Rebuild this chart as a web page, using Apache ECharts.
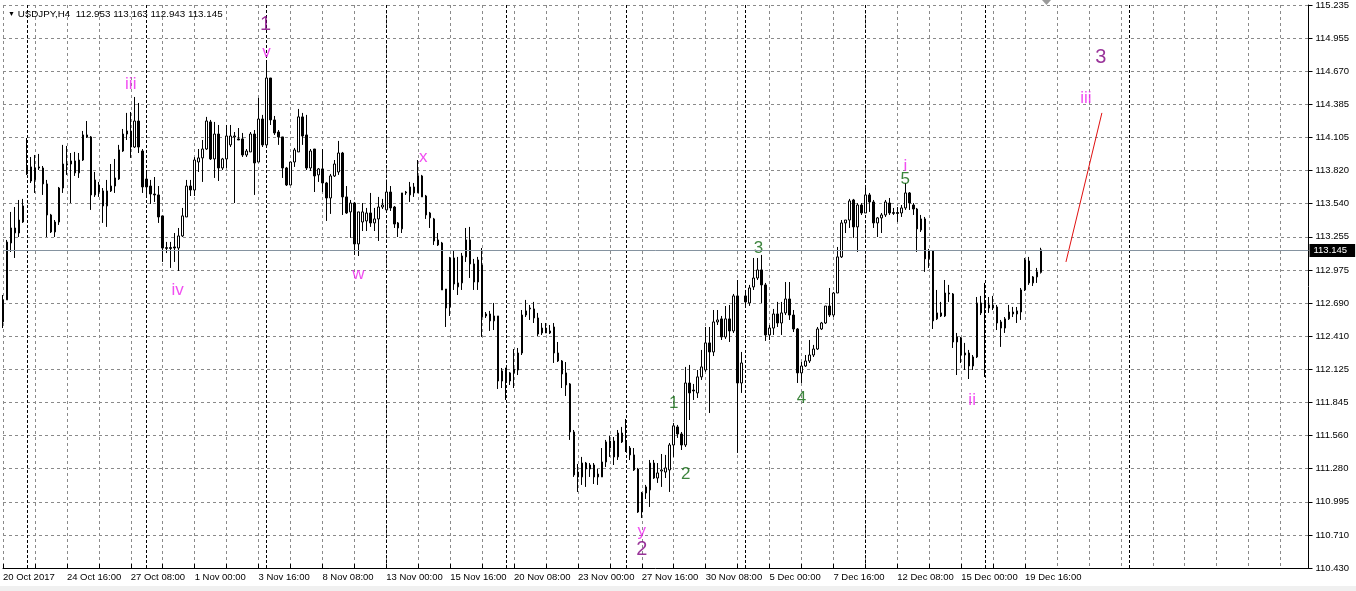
<!DOCTYPE html>
<html><head><meta charset="utf-8">
<script src="https://cdn.jsdelivr.net/npm/echarts/dist/echarts.min.js"></script>
<style>html,body{margin:0;padding:0;background:#fff;overflow:hidden}#c{width:1356px;height:591px}</style>
</head><body><div id="c"></div>
<script>
// ---------------- DATA ----------------
const symbolTitle = 'USDJPY,H4';
const lastQuote = {open:112.953, high:113.163, low:112.943, close:113.145};
const currentPrice = 113.145;

const open = [112.530,112.718,113.204,113.332,113.289,113.383,113.793,113.853,113.742,113.844,
113.844,113.708,113.443,113.298,113.383,113.673,113.870,113.878,113.904,113.802,
113.912,114.126,114.109,113.614,113.699,113.648,113.520,113.648,113.690,113.750,
113.989,114.134,114.160,114.023,114.245,113.989,113.750,113.690,113.622,113.614,
113.435,113.157,113.165,113.170,113.161,113.264,113.426,113.690,113.656,113.895,
113.930,114.006,114.237,113.921,114.134,113.844,113.921,114.041,114.109,114.092,
114.092,113.955,113.981,114.134,113.895,114.262,114.041,114.612,114.254,114.151,
114.109,113.844,113.699,113.895,113.981,114.280,114.126,113.844,114.006,113.785,
113.836,113.716,113.588,113.776,113.810,113.972,113.597,113.469,113.545,113.196,
113.383,113.392,113.460,113.375,113.409,113.511,113.486,113.639,113.511,113.375,
113.324,113.631,113.614,113.682,113.631,113.776,113.605,113.418,113.409,113.230,
113.204,112.811,112.658,113.076,112.829,112.863,113.085,113.230,113.025,112.871,
113.016,112.598,112.598,112.539,112.581,112.026,112.137,112.026,112.095,112.120,
112.265,112.589,112.641,112.641,112.564,112.436,112.478,112.436,112.487,112.265,
112.197,112.095,112.001,111.591,111.249,111.207,111.326,111.275,111.309,111.207,
111.207,111.335,111.454,111.514,111.378,111.582,111.497,111.454,111.395,111.275,
110.908,111.070,111.096,111.326,111.198,111.258,111.249,111.267,111.480,111.634,
111.574,111.480,112.009,111.949,111.924,112.061,112.120,112.351,112.274,112.530,
112.556,112.402,112.556,112.453,112.752,112.009,112.752,112.692,112.829,112.905,
112.974,112.846,112.419,112.478,112.598,112.521,112.607,112.726,112.589,112.470,
112.095,112.154,112.197,112.248,112.299,112.470,112.521,112.666,112.589,112.777,
113.085,113.375,113.400,113.571,113.341,113.528,113.460,113.614,113.554,113.375,
113.418,113.443,113.545,113.456,113.464,113.460,113.503,113.631,113.528,113.494,
113.315,113.409,113.068,113.136,112.556,112.607,112.581,112.777,112.769,112.359,
112.393,112.248,112.265,112.154,112.231,112.692,112.649,112.649,112.675,112.658,
112.530,112.478,112.556,112.615,112.598,112.615,112.803,113.050,112.863,112.914,
112.953];

const close = [112.718,113.212,113.332,113.290,113.400,113.520,113.853,113.733,113.844,113.853,
113.708,113.443,113.298,113.383,113.673,113.878,113.878,113.904,113.802,113.912,
114.126,114.109,113.614,113.742,113.639,113.520,113.648,113.690,113.759,113.998,
114.134,114.160,114.023,114.245,114.023,113.682,113.682,113.622,113.614,113.426,
113.161,113.165,113.157,113.161,113.264,113.435,113.690,113.656,113.912,113.930,
114.006,114.245,113.921,114.134,113.844,113.921,114.117,114.117,114.117,114.083,
113.955,113.989,114.134,113.887,114.262,114.041,114.612,114.254,114.143,114.109,
113.844,113.699,113.895,113.998,114.280,114.117,113.844,113.989,113.776,113.836,
113.716,113.588,113.776,113.878,113.972,113.597,113.460,113.545,113.196,113.469,
113.469,113.460,113.375,113.409,113.511,113.528,113.639,113.503,113.366,113.332,
113.631,113.639,113.682,113.631,113.776,113.597,113.443,113.460,113.221,113.187,
112.803,112.649,113.076,112.854,112.863,113.093,113.230,113.025,112.871,113.059,
112.573,112.581,112.539,112.581,112.026,112.112,112.026,112.095,112.129,112.265,
112.589,112.624,112.649,112.564,112.427,112.478,112.436,112.453,112.265,112.197,
112.086,111.992,111.591,111.224,111.207,111.326,111.275,111.309,111.207,111.232,
111.335,111.506,111.514,111.378,111.582,111.506,111.437,111.395,111.267,110.908,
111.070,111.122,111.326,111.198,111.241,111.267,111.284,111.480,111.643,111.574,
111.480,112.009,111.924,111.941,112.061,112.146,112.351,112.274,112.530,112.547,
112.402,112.556,112.453,112.752,112.009,112.180,112.701,112.820,112.905,112.974,
112.846,112.419,112.478,112.598,112.521,112.607,112.726,112.589,112.470,112.095,
112.154,112.197,112.248,112.299,112.470,112.521,112.666,112.589,112.777,113.085,
113.375,113.400,113.563,113.341,113.528,113.460,113.614,113.554,113.375,113.418,
113.443,113.554,113.460,113.464,113.456,113.503,113.631,113.545,113.494,113.324,
113.409,113.068,113.136,112.539,112.607,112.581,112.777,112.769,112.359,112.402,
112.248,112.265,112.154,112.231,112.692,112.607,112.709,112.675,112.649,112.521,
112.478,112.556,112.615,112.598,112.624,112.803,113.059,112.863,112.914,112.957,
113.145];

const high = [112.760,113.230,113.469,113.511,113.571,113.580,114.100,113.938,113.955,113.964,
113.861,113.742,113.452,113.400,113.682,114.041,114.032,113.972,113.981,113.972,
114.160,114.245,114.117,113.810,113.725,113.673,113.742,113.878,113.921,114.041,
114.177,114.314,114.322,114.450,114.399,114.006,113.802,113.742,113.767,113.690,
113.435,113.213,113.213,113.289,113.332,113.503,113.742,113.742,113.938,114.006,
114.083,114.280,114.254,114.237,114.211,113.930,114.211,114.211,114.151,114.185,
114.143,114.006,114.151,114.168,114.442,114.297,114.749,114.612,114.288,114.168,
114.109,113.853,113.895,114.015,114.348,114.314,114.297,114.006,114.006,113.844,
114.006,113.725,113.793,113.912,114.075,113.981,113.690,113.571,113.554,113.469,
113.545,113.503,113.631,113.503,113.597,113.580,113.725,113.690,113.520,113.383,
113.631,113.648,113.725,113.716,113.912,113.785,113.614,113.469,113.418,113.289,
113.213,112.811,113.085,113.144,113.085,113.119,113.332,113.341,113.068,113.085,
113.161,112.615,112.624,112.692,112.581,112.137,112.137,112.103,112.299,112.308,
112.632,112.718,112.675,112.701,112.607,112.521,112.521,112.504,112.521,112.359,
112.205,112.188,112.009,111.608,111.318,111.378,111.335,111.326,111.326,111.275,
111.454,111.523,111.557,111.548,111.608,111.634,111.702,111.471,111.454,111.284,
111.079,111.139,111.352,111.352,111.326,111.403,111.395,111.497,111.668,111.651,
111.591,112.146,112.163,112.001,112.120,112.291,112.487,112.487,112.632,112.632,
112.581,112.666,112.675,112.769,112.888,112.274,112.803,112.846,113.076,113.076,
113.102,112.863,112.504,112.641,112.701,112.701,112.871,112.871,112.632,112.478,
112.188,112.248,112.376,112.334,112.487,112.530,112.666,112.820,112.786,113.170,
113.400,113.400,113.580,113.580,113.545,113.545,113.699,113.631,113.571,113.426,
113.460,113.571,113.588,113.503,113.511,113.528,113.716,113.639,113.545,113.503,
113.443,113.426,113.153,113.144,112.803,112.701,112.888,112.846,112.777,112.436,
112.402,112.351,112.291,112.248,112.743,112.752,112.863,112.743,112.752,112.675,
112.547,112.572,112.675,112.658,112.658,112.820,113.076,113.085,112.922,112.991,
113.163];

const low = [112.478,112.718,113.127,113.076,113.255,113.375,113.785,113.716,113.631,113.827,
113.614,113.255,113.289,113.255,113.358,113.631,113.785,113.545,113.776,113.759,
113.904,114.100,113.486,113.597,113.597,113.375,113.341,113.639,113.631,113.742,
113.981,114.083,113.930,114.015,113.972,113.631,113.614,113.537,113.554,113.375,
113.042,113.118,112.991,113.042,112.965,113.255,113.426,113.605,113.605,113.810,
113.725,113.998,113.912,113.759,113.733,113.827,113.844,114.023,113.545,114.083,
113.938,113.938,113.981,113.614,113.895,114.023,114.023,114.211,114.126,114.041,
113.759,113.690,113.699,113.853,113.981,114.041,113.827,113.819,113.639,113.725,
113.639,113.392,113.452,113.767,113.785,113.443,113.452,113.247,113.102,113.093,
113.306,113.306,113.341,113.306,113.221,113.494,113.469,113.477,113.332,113.255,
113.289,113.614,113.554,113.597,113.631,113.597,113.409,113.332,113.187,113.178,
112.803,112.487,112.581,112.803,112.760,112.803,113.042,112.905,112.803,112.803,
112.402,112.564,112.453,112.461,111.958,111.966,111.864,111.992,111.966,112.077,
112.248,112.572,112.547,112.521,112.410,112.419,112.436,112.427,112.180,112.188,
111.966,111.898,111.523,111.207,111.079,111.139,111.122,111.207,111.147,111.139,
111.207,111.292,111.378,111.309,111.352,111.497,111.420,111.352,111.258,110.900,
110.857,111.019,110.951,111.190,111.156,111.122,111.198,111.079,111.378,111.540,
111.437,111.463,111.693,111.864,111.881,112.035,112.103,111.753,112.239,112.504,
112.376,112.385,112.359,112.436,111.412,111.924,112.675,112.667,112.803,112.888,
112.692,112.368,112.376,112.419,112.487,112.419,112.589,112.547,112.444,112.009,
112.009,112.146,112.180,112.231,112.291,112.461,112.513,112.572,112.572,112.777,
113.076,113.289,113.332,113.247,113.127,113.443,113.460,113.469,113.332,113.255,
113.289,113.426,113.443,113.443,113.383,113.426,113.486,113.486,113.443,113.127,
113.298,112.957,112.991,112.470,112.547,112.572,112.572,112.701,112.308,112.077,
112.180,112.120,112.043,112.120,112.222,112.589,112.060,112.607,112.632,112.461,
112.317,112.436,112.547,112.572,112.521,112.547,112.794,112.846,112.837,112.863,
112.943];

// price-scale tick labels (bottom to top)
const priceTicks = ['110.430','110.710','110.995','111.280','111.560','111.845','112.125','112.410','112.690',
  '112.975','113.255','113.540','113.820','114.105','114.385','114.670','114.955','115.235'];

// bar slots on the time axis (261 bars + chart shift to the right)
const totalSlots = 328;
const firstBarTime = Date.UTC(2017, 9, 20, 0, 0);
const labelEvery = 16;       // bars between time labels
const gridEvery = 8;         // bars between vertical grid lines
const weekStartBars = [6, 36, 66, 96, 126, 156, 186, 216, 246, 282];

// Elliott wave annotations: bar position and price
const waveLabels = [
  {text:'1',   bar:65.75,  price:115.065, degree:'primary'},
  {text:'v',   bar:66,     price:114.834, degree:'intermediate'},
  {text:'iii', bar:32,     price:114.561, degree:'intermediate'},
  {text:'iv',  bar:43.75,  price:112.803, degree:'intermediate'},
  {text:'w',   bar:89,     price:112.940, degree:'intermediate'},
  {text:'x',   bar:105.25, price:113.938, degree:'intermediate'},
  {text:'y',   bar:160,    price:110.740, degree:'intermediate'},
  {text:'2',   bar:160,    price:110.584, degree:'primary'},
  {text:'1',   bar:168,    price:111.838, degree:'minor'},
  {text:'2',   bar:171,    price:111.232, degree:'minor'},
  {text:'3',   bar:189.25, price:113.161, degree:'minor'},
  {text:'4',   bar:200,    price:111.881, degree:'minor'},
  {text:'5',   bar:226,    price:113.750, degree:'minor'},
  {text:'i',   bar:226,    price:113.861, degree:'intermediate'},
  {text:'ii',  bar:242.75, price:111.864, degree:'intermediate'},
  {text:'3',   bar:275,    price:114.791, degree:'primary'},
  {text:'iii', bar:271.25, price:114.442, degree:'intermediate'}
];
// projected trend line (bar, price)
const trendLine = [[266.25, 113.042], [275.25, 114.314]];

// ---------------- STYLE ----------------
const degreeStyle = {
  primary:      {color:'#800080', fontSize:20},
  intermediate: {color:'#ee22ee', fontSize:17},
  minor:        {color:'#0b650b', fontSize:17}
};
const FONT = 'Liberation Sans, Arial, sans-serif';

// ---------------- BUILD ----------------
const MONTHS = ['Jan','Feb','Mar','Apr','May','Jun','Jul','Aug','Sep','Oct','Nov','Dec'];
const categories = [];
{
  let t = firstBarTime;
  while (categories.length < totalSlots) {
    const d = new Date(t);
    const wd = d.getUTCDay();
    if (wd !== 0 && wd !== 6) {
      const hh = String(d.getUTCHours()).padStart(2, '0');
      const base = d.getUTCDate() + ' ' + MONTHS[d.getUTCMonth()];
      categories.push(categories.length === 0 ? base + ' ' + d.getUTCFullYear() : base + ' ' + hh + ':00');
    }
    t += 4 * 3600 * 1000;
  }
}
const lastBar = open.length - 1;
const candleData = open.map((o, i) => [o, close[i], low[i], high[i]]);

const chart = echarts.init(document.getElementById('c'), null, {renderer:'canvas'});

chart.setOption({
  animation:false,
  backgroundColor:'#ffffff',
  title:{
    left:3, top:4,
    text:'{t|▼} ' + symbolTitle + '  ' + [lastQuote.open, lastQuote.high, lastQuote.low, lastQuote.close].map(v=>v.toFixed(3)).join(' '),
    textStyle:{fontFamily:FONT, fontSize:9.8, fontWeight:'normal', color:'#000',
      rich:{t:{fontSize:7, color:'#000', fontFamily:FONT}}}
  },
  grid:{left:0.5, right:47.5, top:5, bottom:23},
  xAxis:[
    {
      type:'category', data:categories, boundaryGap:false, gridIndex:0,
      axisLine:{show:true, lineStyle:{color:'#000', width:1}},
      axisTick:{show:true, inside:true, length:4, interval:(i)=> i % gridEvery === 0 && i <= lastBar, lineStyle:{color:'#000'}},
      axisLabel:{show:true, interval:(i)=> i % labelEvery === 0 && i <= lastBar, align:'left', margin:4,
        fontFamily:FONT, fontSize:9.5, color:'#000'},
      splitLine:{show:true, interval:(i)=> i % gridEvery === 0, lineStyle:{color:'#8a8a8a', type:[3,3], width:1}}
    },
    {
      type:'category', data:categories, boundaryGap:false, gridIndex:0, position:'bottom',
      axisLine:{show:false}, axisTick:{show:false}, axisLabel:{show:false},
      splitLine:{show:true, interval:(i)=> weekStartBars.indexOf(i) >= 0, lineStyle:{color:'#000', type:[3,2], width:1}}
    },
    {
      type:'value', min:0, max:totalSlots - 1, show:false, gridIndex:0
    }
  ],
  yAxis:[
    {
      type:'value', min:110.430, max:115.235, show:false, gridIndex:0,
      splitLine:{show:false}
    },
    {
      type:'value', min:0, max:priceTicks.length - 1, interval:1, position:'right', gridIndex:0,
      axisLine:{show:true, lineStyle:{color:'#000', width:1}},
      axisTick:{show:true, inside:false, length:4, lineStyle:{color:'#000'}},
      axisLabel:{show:true, margin:7, fontFamily:FONT, fontSize:9.5, color:'#000',
        formatter:(v)=> priceTicks[Math.round(v)] || ''},
      splitLine:{show:true, lineStyle:{color:'#8a8a8a', type:[3,3], width:1}}
    }
  ],
  series:[
    {
      type:'candlestick', name:'USDJPY', xAxisIndex:0, yAxisIndex:0,
      data:candleData, barWidth:2,
      itemStyle:{color:'#ffffff', color0:'#000000', borderColor:'#000000', borderColor0:'#000000', borderWidth:1},
      markLine:{
        silent:true, symbol:['none','none'], animation:false,
        data:[{yAxis:currentPrice}],
        lineStyle:{color:'#8593a0', type:'solid', width:1},
        label:{show:true, position:'end', formatter:currentPrice.toFixed(3), distance:1,
          backgroundColor:'#000', color:'#fff', fontFamily:FONT, fontSize:9.5, padding:[2,8,1,4]}
      }
    },
    {
      type:'line', xAxisIndex:2, yAxisIndex:0, data:trendLine, symbol:'none',
      lineStyle:{color:'#e01010', width:1}, silent:true
    },
    {
      type:'scatter', xAxisIndex:2, yAxisIndex:0, symbolSize:1, silent:true,
      itemStyle:{color:'rgba(0,0,0,0)'},
      data:waveLabels.map(w => ({
        value:[w.bar, w.price],
        label:{show:true, position:'inside', formatter:w.text,
          color:degreeStyle[w.degree].color, fontSize:degreeStyle[w.degree].fontSize, fontFamily:FONT}
      }))
    }
  ],
  graphic:[
    {type:'polygon', shape:{points:[[1042,0],[1051,0],[1046.5,5]]}, style:{fill:'#9a9a9a'}, silent:true},
    {type:'rect', shape:{x:0, y:586, width:1356, height:5}, style:{fill:'#f0f0f0'}, silent:true}
  ]
});
</script>
</body></html>
